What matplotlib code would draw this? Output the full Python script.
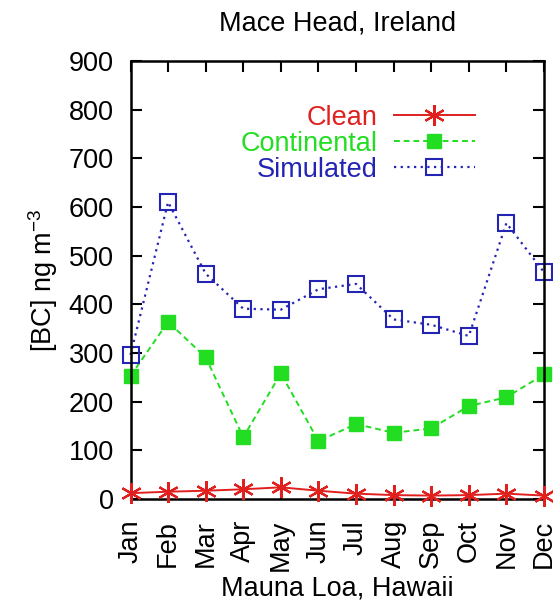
import numpy as np
import matplotlib.pyplot as plt

plt.rcParams['font.family'] = ['Liberation Sans', 'DejaVu Sans']

months = ["Jan", "Feb", "Mar", "Apr", "May", "Jun",
          "Jul", "Aug", "Sep", "Oct", "Nov", "Dec"]
clean = [12, 15, 17, 20, 24, 17, 11, 8, 7, 8, 11, 7]
continental = [253, 364, 291, 127, 258, 119, 154, 136, 145, 191, 209, 256]
simulated = [296, 610, 463, 391, 389, 431, 442, 369, 358, 335, 567, 466]

fig = plt.figure(figsize=(5.53, 6.04), dpi=100)
ax = fig.add_axes([130.5 / 553, 105 / 604, 413.5 / 553, 438 / 604])

x = np.arange(len(months))
ax.plot(x, clean, color="#e0201e", linestyle="-", linewidth=1.4,
        marker=(6, 2, 0), markersize=15, markeredgewidth=1.6, label="Clean",
        clip_on=False, zorder=3)
ax.plot(x, continental, color="#22dd22", linestyle=(0, (3, 2)), linewidth=1.4,
        marker="s", markersize=10, label="Continental", clip_on=False)
ax.plot(x, simulated, color="#2424b4", linestyle=(0, (1, 2)), linewidth=1.6,
        marker="s", markersize=11, markerfacecolor="none", markeredgewidth=1.5,
        label="Simulated", clip_on=False)

ax.set_xlim(0, 11)
ax.set_ylim(0, 900)
ax.set_xticks(x)
ax.set_xticklabels(months, rotation=90)
ax.set_yticks(np.arange(0, 901, 100))
ax.tick_params(direction="in", length=8, width=1.5, top=True, right=True,
               labelsize=19.5)
ax.tick_params(axis="y", pad=12)
ax.tick_params(axis="x", pad=15)
for s in ax.spines.values():
    s.set_linewidth(1.8)

ax.set_title("Mace Head, Ireland", fontsize=19.5, pad=22)
ax.set_xlabel("Mauna Loa, Hawaii", fontsize=19.5, labelpad=3)
ax.set_ylabel("[BC] ng m$^{\\mathregular{-3}}$", fontsize=19.5, labelpad=6)

leg = ax.legend(loc="upper right", bbox_to_anchor=(0.833, 0.90),
                frameon=False, markerfirst=False, labelcolor="linecolor",
                fontsize=19.5, handlelength=3.0, handletextpad=0.6,
                labelspacing=0.0, borderpad=0, borderaxespad=0)

fig.savefig("out.png", dpi=100)
